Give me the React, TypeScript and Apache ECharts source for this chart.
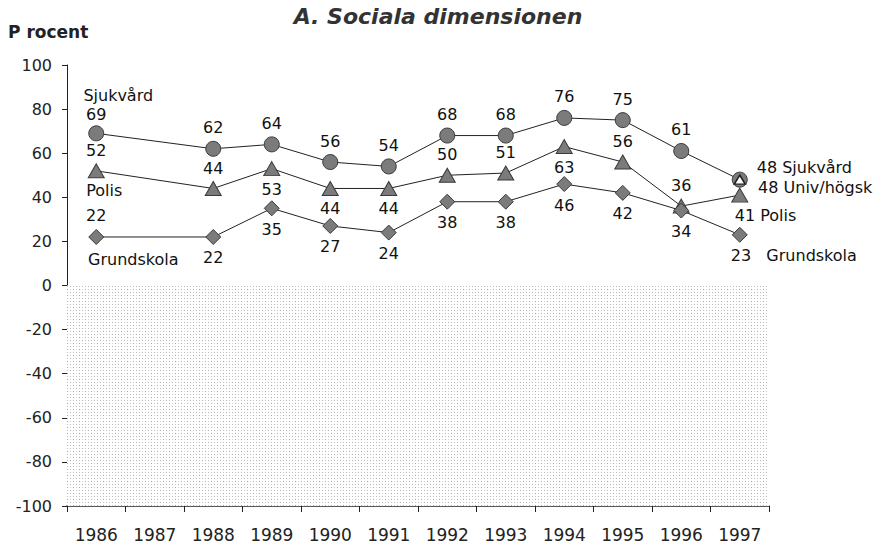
import React, { useEffect, useRef } from "react";
import * as echarts from "echarts";

const years = ["1986", "1987", "1988", "1989", "1990", "1991", "1992", "1993", "1994", "1995", "1996", "1997"];
const sjukvard = [69, null, 62, 64, 56, 54, 68, 68, 76, 75, 61, 48];
const polis = [52, null, 44, 53, 44, 44, 50, 51, 63, 56, 36, 41];
const grundskola = [22, null, 22, 35, 27, 24, 38, 38, 46, 42, 34, 23];
const univ = [null, null, null, null, null, null, null, null, null, null, null, 48];

const titleText = "A. Sociala dimensionen";
const yAxisTitle = "P rocent";

// label placement (above / below each point)
const polisPos = ["top", "top", "top", "bottom", "bottom", "bottom", "top", "top", "bottom", "top", "top", "bottom"];
const grundPos = ["top", "bottom", "bottom", "bottom", "bottom", "bottom", "bottom", "bottom", "bottom", "bottom", "bottom", "bottom"];

const FONT = "'DejaVu Sans', sans-serif";
const MARK_FILL = "#7b7b7b";
const MARK_BORDER = "#3a3a3a";

function makePattern(): HTMLCanvasElement {
  const c = document.createElement("canvas");
  c.width = 6;
  c.height = 6;
  const ctx = c.getContext("2d")!;
  ctx.fillStyle = "#ffffff";
  ctx.fillRect(0, 0, 6, 6);
  const dots: [number, number, string][] = [
    [1, 1, "#a6a6a6"],
    [4, 1, "#d2d2d2"],
    [1, 4, "#c4c4c4"],
    [4, 4, "#b6b6b6"],
  ];
  dots.forEach(([x, y, col]) => {
    ctx.fillStyle = col;
    ctx.fillRect(x, y, 1, 1);
  });
  return c;
}

export default function App() {
  const ref = useRef<HTMLDivElement>(null);

  useEffect(() => {
    if (!ref.current) return;
    const chart = echarts.init(ref.current, undefined, { renderer: "svg" });

    const labelBase = {
      show: true,
      fontFamily: FONT,
      fontSize: 16,
      color: "#111",
      distance: 5,
    };

    const sjData = sjukvard.map((v, i) => {
      if (i === years.length - 1) {
        return {
          value: v,
          label: { position: "right", distance: 9, offset: [0, -12], formatter: "{c} Sjukvård" },
        };
      }
      if (i === 0) {
        return { value: v, label: { distance: 3 } };
      }
      return { value: v };
    });

    const poData = polis.map((v, i) => {
      if (i === years.length - 1) {
        return {
          value: v,
          label: { position: "bottom", align: "left", offset: [-5, 0], formatter: "{c} Polis" },
        };
      }
      return { value: v, label: { position: polisPos[i] } };
    });

    const grData = grundskola.map((v, i) => {
      if (i === years.length - 1) {
        return {
          value: v,
          label: { position: "bottom", align: "left", offset: [-9, 0], formatter: "{c}   Grundskola" },
        };
      }
      return { value: v, label: { position: grundPos[i] } };
    });

    const unData = univ.map((v) => ({
      value: v,
      label: { position: "right", distance: 12, offset: [0, 8], formatter: "{c} Univ/högsk" },
    }));

    const nameMark = (name: string, value: number, offset: number[]) => ({
      symbol: "circle",
      symbolSize: 0,
      data: [
        {
          coord: [years[0], value],
          label: {
            show: true,
            position: "inside",
            formatter: name,
            offset,
            fontFamily: FONT,
            fontSize: 16,
            color: "#111",
          },
        },
      ],
      silent: true,
    });

    const common = {
      type: "line",
      connectNulls: true,
      lineStyle: { color: "#222", width: 1 },
      itemStyle: { color: MARK_FILL, borderColor: MARK_BORDER, borderWidth: 1 },
      emphasis: { disabled: true },
      showAllSymbol: true,
    };

    chart.setOption({
      animation: false,
      backgroundColor: "#ffffff",
      title: [
        {
          text: titleText,
          left: "center",
          top: 0,
          textStyle: {
            fontFamily: FONT,
            fontSize: 22,
            fontWeight: "bold",
            fontStyle: "italic",
            color: "#333",
          },
        },
        {
          text: yAxisTitle,
          left: 3,
          top: 18,
          textStyle: { fontFamily: FONT, fontSize: 17, fontWeight: "bold", color: "#222" },
        },
      ],
      grid: { left: 67, right: 107, top: 65, bottom: 38, containLabel: false },
      xAxis: {
        type: "category",
        data: years,
        boundaryGap: true,
        position: "bottom",
        axisLine: { onZero: false, lineStyle: { color: "#222", width: 1.5 } },
        axisTick: { show: true, length: 6, lineStyle: { color: "#222" } },
        axisLabel: {
          interval: 0,
          margin: 20,
          fontFamily: FONT,
          fontSize: 17,
          color: "#222",
        },
        splitLine: { show: false },
      },
      yAxis: {
        type: "value",
        min: -100,
        max: 100,
        interval: 20,
        axisLine: { show: true, lineStyle: { color: "#222", width: 1 } },
        axisTick: { show: true, length: 5, lineStyle: { color: "#222" } },
        axisLabel: { margin: 15, fontFamily: FONT, fontSize: 16, color: "#222" },
        splitLine: { show: false },
      },
      series: [
        {
          ...common,
          name: "Sjukvård",
          symbol: "circle",
          symbolSize: 15,
          data: sjData,
          label: { ...labelBase, position: "top" },
          markPoint: nameMark("Sjukvård", sjukvard[0] as number, [22, -38]),
          markArea: {
            silent: true,
            itemStyle: { color: { image: makePattern(), repeat: "repeat" } },
            data: [[{ yAxis: 0 }, { yAxis: -100 }]],
          },
          z: 3,
        },
        {
          ...common,
          name: "Polis",
          symbol: "triangle",
          symbolSize: [16, 14],
          data: poData,
          label: { ...labelBase },
          markPoint: nameMark("Polis", polis[0] as number, [8, 20]),
          z: 3,
        },
        {
          ...common,
          name: "Grundskola",
          symbol: "diamond",
          symbolSize: 15,
          data: grData,
          label: { ...labelBase },
          markPoint: nameMark("Grundskola", grundskola[0] as number, [37, 23]),
          z: 3,
        },
        {
          ...common,
          name: "Univ/högsk",
          symbol: "triangle",
          symbolSize: [11, 9],
          itemStyle: { color: "#ffffff", borderColor: "#222", borderWidth: 1.5 },
          data: unData,
          label: { ...labelBase },
          z: 4,
        },
      ],
    });

    return () => chart.dispose();
  }, []);

  return (
    <div
      ref={ref}
      style={{ position: "fixed", left: 0, top: 0, width: 876, height: 544, background: "#fff" }}
    />
  );
}
